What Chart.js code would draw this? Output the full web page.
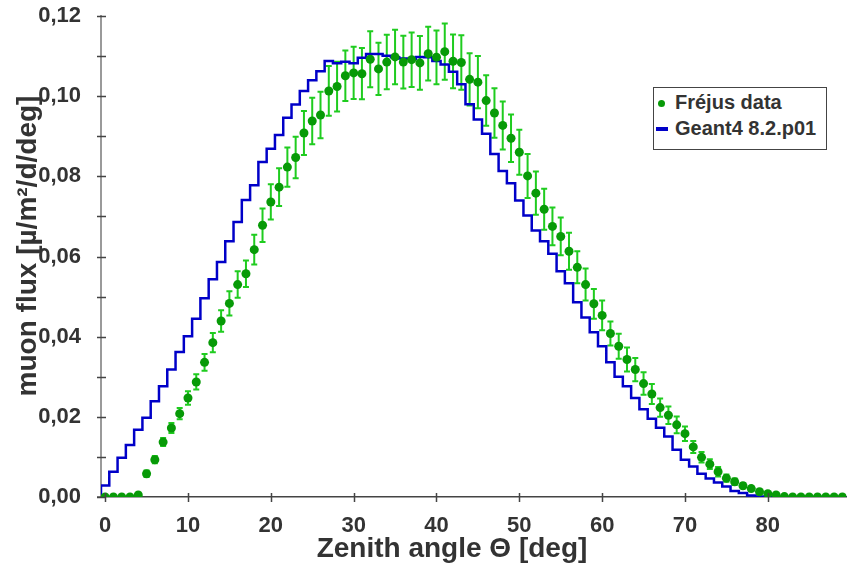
<!DOCTYPE html>
<html>
<head>
<meta charset="utf-8">
<script src="https://cdn.jsdelivr.net/npm/chart.js@4.4.1/dist/chart.umd.min.js"></script>
<style>
  body { margin: 0; background: #fff; }
  #wrap { position: relative; width: 851px; height: 570px; }
  #legend {
    position: absolute; left: 653px; top: 87px; width: 172px; height: 61px;
    border: 1px solid #444; background: #fff;
    font: bold 20px "Liberation Sans", Arial, sans-serif; color: #333;
  }
  #legend div { position: absolute; left: 21px; white-space: nowrap; }
  #legend .mk { position: absolute; }
</style>
</head>
<body>
<div id="wrap">
  <canvas id="chart" width="851" height="570"></canvas>
  <div id="legend">
    <span class="mk" style="left:4px;top:12px;width:7px;height:7px;border-radius:50%;background:#079a07"></span>
    <div style="top:3px">Fréjus data</div>
    <span class="mk" style="left:2px;top:39px;width:12px;height:4px;background:#0000c8"></span>
    <div style="top:29px">Geant4 8.2.p01</div>
  </div>
</div>
<script>
// zenith angle bins (deg)
var angles = [];
for (var i = 0; i < 90; i++) angles.push(i);

// Fréjus measured flux
var frejusFlux = [
  0, 0, 0, 0, 0.0005, 0.0058, 0.0093, 0.0137, 0.0172, 0.0208,
  0.0247, 0.0287, 0.0336, 0.0385, 0.0439, 0.0483, 0.0530, 0.0557, 0.0617, 0.0678,
  0.0736, 0.0773, 0.0823, 0.0847, 0.0908, 0.0938, 0.0953, 0.1013, 0.1024, 0.1051,
  0.1058, 0.1056, 0.1092, 0.1068, 0.1085, 0.1098, 0.1085, 0.1091, 0.1083, 0.1106,
  0.1097, 0.1111, 0.1087, 0.1084, 0.1042, 0.1035, 0.0989, 0.0958, 0.0927, 0.0895,
  0.0860, 0.0801, 0.0758, 0.0718, 0.0675, 0.0650, 0.0613, 0.0573, 0.0530, 0.0482,
  0.0453, 0.0408, 0.0376, 0.0343, 0.0318, 0.0283, 0.0257, 0.0223, 0.0204, 0.0180,
  0.0158, 0.0125, 0.0099, 0.0082, 0.0063, 0.0047, 0.0038, 0.0028, 0.0021, 0.0013,
  0.0008, 0.0005, 0.0001, 0, 0, 0, 0, 0, 0, 0
];

// statistical errors of the measured flux
var frejusErr = [
  0, 0, 0, 0, 0, 0.0008, 0.0009, 0.0010, 0.00125, 0.0014,
  0.0017, 0.0019, 0.0021, 0.0024, 0.0027, 0.0030, 0.0033, 0.0033, 0.0037, 0.0042,
  0.0044, 0.0047, 0.0049, 0.0052, 0.0055, 0.0058, 0.0058, 0.0062, 0.0062, 0.0063,
  0.0065, 0.0064, 0.0070, 0.0065, 0.0068, 0.0068, 0.0066, 0.0068, 0.0067, 0.0067,
  0.0067, 0.0070, 0.0067, 0.0068, 0.0065, 0.0065, 0.0063, 0.0062, 0.0060, 0.0059,
  0.0056, 0.0055, 0.0054, 0.0051, 0.0047, 0.0047, 0.0046, 0.0040, 0.0040, 0.0037,
  0.0037, 0.0030, 0.0031, 0.0030, 0.0029, 0.0028, 0.0025, 0.0023, 0.0022, 0.0021,
  0.0018, 0.0015, 0.0013, 0.0012, 0.0012, 0.0009, 0.0008, 0.0006, 0.0005, 0.0003,
  0, 0, 0, 0, 0, 0, 0, 0, 0, 0
];

// Geant4 simulation histogram
var geantFlux = [
  0, 0.0029, 0.0063, 0.0098, 0.0130, 0.0168, 0.0198, 0.0239, 0.0276, 0.0318,
  0.0362, 0.0401, 0.0445, 0.0496, 0.0543, 0.0586, 0.0638, 0.0686, 0.0741, 0.0778,
  0.0836, 0.0869, 0.0903, 0.0946, 0.0979, 0.1013, 0.1040, 0.1062, 0.1088, 0.1082,
  0.1086, 0.1082, 0.1096, 0.1105, 0.1105, 0.1101, 0.1097, 0.1094, 0.1093, 0.1098,
  0.1097, 0.1088, 0.1079, 0.1061, 0.1030, 0.0980, 0.0942, 0.0906, 0.0856, 0.0813,
  0.0783, 0.0740, 0.0702, 0.0665, 0.0638, 0.0607, 0.0563, 0.0533, 0.0486, 0.0448,
  0.0411, 0.0376, 0.0336, 0.0300, 0.0276, 0.0247, 0.0219, 0.0195, 0.0173, 0.0151,
  0.0118, 0.0093, 0.0076, 0.0058, 0.0046, 0.0036, 0.0026, 0.0015, 0.0010, 0.0004,
  0.0001, 0, 0, 0, 0, 0, 0, 0, 0, 0
];

var xTicks = [0, 10, 20, 30, 40, 50, 60, 70, 80];

var FONT = '"Liberation Sans", Arial, sans-serif';

// histogram drawn from bin edges
var geantSteps = angles.map(function(a, i) { return { x: a - 0.5, y: geantFlux[i] }; });
geantSteps.push({ x: angles[angles.length - 1] + 0.5, y: geantFlux[geantFlux.length - 1] });

var frejusPts = angles.map(function(a, i) { return { x: a, y: frejusFlux[i] }; });

var errorBars = {
  id: 'errorBars',
  beforeDatasetsDraw: function(chart) {
    var ctx = chart.ctx, xs = chart.scales.x, ys = chart.scales.y;
    ctx.save();
    ctx.strokeStyle = '#1fcc1f';
    ctx.lineWidth = 2;
    angles.forEach(function(a, i) {
      var e = frejusErr[i];
      if (!e) return;
      var px = xs.getPixelForValue(a);
      var top = ys.getPixelForValue(frejusFlux[i] + e);
      var bot = ys.getPixelForValue(frejusFlux[i] - e);
      ctx.beginPath();
      ctx.moveTo(px, top); ctx.lineTo(px, bot);
      ctx.moveTo(px - 3, top); ctx.lineTo(px + 3, top);
      ctx.moveTo(px - 3, bot); ctx.lineTo(px + 3, bot);
      ctx.stroke();
    });
    ctx.restore();
  }
};

var axisDecor = {
  id: 'axisDecor',
  afterDraw: function(chart) {
    var ctx = chart.ctx, xs = chart.scales.x, ys = chart.scales.y, area = chart.chartArea;
    ctx.save();
    ctx.strokeStyle = '#444';
    ctx.lineWidth = 1.5;
    ctx.beginPath();
    ys.ticks.forEach(function(t) {
      var py = Math.round(ys.getPixelForValue(t.value)) + 0.5;
      ctx.moveTo(area.left - 4, py); ctx.lineTo(area.left + 5, py);
    });
    xTicks.forEach(function(v) {
      var px = Math.round(xs.getPixelForValue(v)) + 0.5;
      ctx.moveTo(px, area.bottom - 4); ctx.lineTo(px, area.bottom + 5);
    });
    ctx.moveTo(area.left - 4, area.bottom); ctx.lineTo(area.left, area.bottom);
    ctx.stroke();

    // axis titles
    ctx.fillStyle = '#333';
    ctx.font = 'bold 28px ' + FONT;
    ctx.textAlign = 'center';
    ctx.textBaseline = 'middle';
    ctx.fillText('Zenith angle Θ [deg]', 452, 549);
    ctx.translate(28, 246);
    ctx.rotate(-Math.PI / 2);
    ctx.fillText('muon flux [µ/m²/d/deg]', 0, 0);
    ctx.restore();
  }
};

var ctx = document.getElementById('chart').getContext('2d');
var chart = new Chart(ctx, {
  type: 'scatter',
  data: {
    datasets: [{
      label: 'Fréjus data',
      data: frejusPts,
      showLine: false,
      pointRadius: 4.5,
      pointHoverRadius: 4.5,
      pointBackgroundColor: '#079a07',
      pointBorderWidth: 0,
      order: 0
    }, {
      label: 'Geant4 8.2.p01',
      data: geantSteps,
      showLine: true,
      stepped: 'after',
      borderColor: '#0000c8',
      borderWidth: 2.5,
      pointRadius: 0,
      fill: false,
      order: 1
    }]
  },
  options: {
    responsive: false,
    animation: false,
    layout: { padding: { top: 16, right: 0, left: 0, bottom: 0 } },
    plugins: { legend: { display: false }, tooltip: { enabled: false } },
    scales: {
      x: {
        type: 'linear',
        min: -0.5,
        max: 89.5,
        afterFit: function(s) { s.height = 73; s.paddingLeft = 0; s.paddingRight = 0; },
        afterBuildTicks: function(s) {
          s.ticks = xTicks.map(function(v) { return { value: v }; });
        },
        grid: { display: false },
        border: { display: true, color: '#444', width: 1.5 },
        ticks: {
          padding: 8,
          color: '#333',
          font: { family: FONT, size: 22, weight: 'bold' },
          maxRotation: 0,
          callback: function(v) { return String(v); }
        }
      },
      y: {
        min: 0,
        max: 0.12,
        afterFit: function(s) { s.width = 101; s.paddingTop = 0; s.paddingBottom = 0; },
        grid: { display: false },
        border: { display: true, color: '#9a9a9a', width: 2 },
        ticks: {
          stepSize: 0.01,
          padding: 12,
          color: '#333',
          font: { family: FONT, size: 22, weight: 'bold' },
          callback: function(v) {
            var k = Math.round(v * 100);
            return k % 2 === 0 ? (k / 100).toFixed(2).replace('.', ',') : '';
          }
        }
      }
    }
  },
  plugins: [errorBars, axisDecor]
});
</script>
</body>
</html>
